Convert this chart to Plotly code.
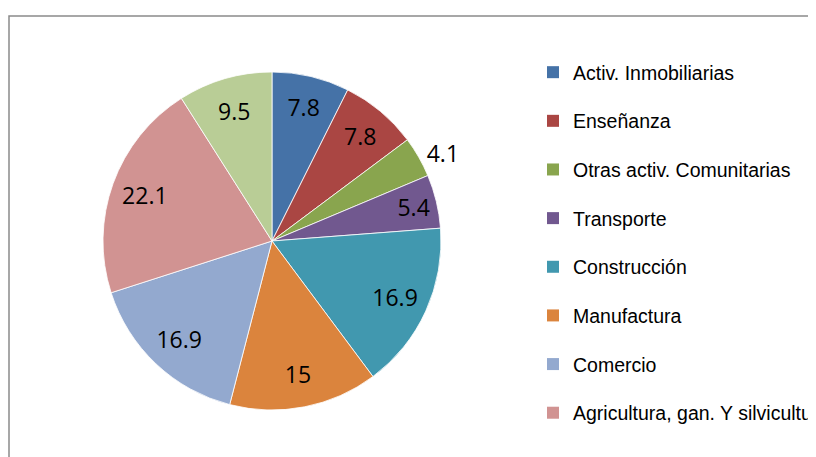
import plotly.graph_objects as go

# Sector shares (%)
sectores = ['Activ. Inmobiliarias', 'Enseñanza', 'Otras activ. Comunitarias', 'Transporte',
            'Construcción', 'Manufactura', 'Comercio', 'Agricultura, gan. Y silvicultura',
            'Otros']
valores = [7.8, 7.8, 4.1, 5.4, 16.9, 15, 16.9, 22.1, 9.5]
colores = ['#4572A7', '#AA4643', '#89A54E', '#71588F', '#4198AF',
           '#DB843D', '#93A9CF', '#D19392', '#B9CD96']
posicion_texto = ['inside', 'inside', 'outside', 'inside', 'inside',
                  'inside', 'inside', 'inside', 'inside']

W, H = 816, 457
off = 8  # the html page adds an 8px body margin
cx, cy, r = 272 - off, 241 - off, 169
dom = dict(x=[(cx - r) / W, (cx + r) / W],
           y=[(H - cy - r) / H, (H - cy + r) / H])

fig = go.Figure()

# the pie itself
fig.add_trace(go.Pie(
    labels=sectores, values=valores, sort=False, direction='clockwise', rotation=0,
    marker=dict(colors=colores, line=dict(color='white', width=0.8)),
    textinfo='none', showlegend=False, domain=dom,
))

# transparent ring on top carrying the data labels (pushes them outward like Excel)
fig.add_trace(go.Pie(
    labels=sectores, values=valores, sort=False, direction='clockwise', rotation=0,
    hole=0.6,
    marker=dict(colors=['rgba(0,0,0,0)'] * len(valores), line=dict(width=0)),
    texttemplate='%{value}',
    textposition=posicion_texto,
    insidetextorientation='horizontal',
    textfont=dict(family='Open Sans', size=23, color='black'),
    hoverinfo='skip', showlegend=False, domain=dom,
))

# legend entries (only the first 8 are visible in the original)
for i in range(8):
    fig.add_trace(go.Scatter(
        x=[None], y=[None], mode='markers', name=sectores[i],
        legendgroup=str(i),
        marker=dict(symbol='square', size=12, color=colores[i]),
    ))

fig.update_layout(
    width=W, height=H,
    margin=dict(l=0, r=0, t=0, b=0, autoexpand=False),
    paper_bgcolor='white', plot_bgcolor='white',
    xaxis=dict(visible=False), yaxis=dict(visible=False),
    uniformtext=dict(mode='show', minsize=23),
    legend=dict(
        x=(533 - off) / W, y=1 - (53 - off) / H, xanchor='left', yanchor='top',
        font=dict(family='Liberation Sans', size=19.5, color='black'),
        tracegroupgap=20.3, bgcolor='rgba(0,0,0,0)',
    ),
    shapes=[dict(type='rect', xref='paper', yref='paper',
                 x0=(9 - off) / W, x1=1.05, y0=-0.05, y1=1 - (16 - off) / H,
                 line=dict(color='#8a8a8a', width=1.5))],
)

fig.write_html("out.html")
